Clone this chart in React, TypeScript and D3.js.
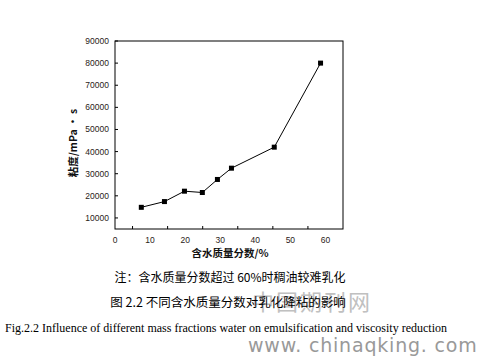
import React from "react";
import * as d3 from "d3";

const waterFraction = [7.5, 14.1, 19.8, 24.9, 29.2, 33.2, 45.4, 58.6];
const viscosity = [14800, 17400, 22100, 21500, 27400, 32500, 42000, 80000];
const xTickValues = [0, 10, 20, 30, 40, 50, 60];
const xMinorTicks = [5, 15, 25, 35, 45, 55];
const yTickValues = [10000, 20000, 30000, 40000, 50000, 60000, 70000, 80000, 90000];

const xLabel = "含水质量分数/%";
const yLabel = "粘度/mPa • s";
const noteText = "注：含水质量分数超过 60%时稠油较难乳化";
const titleCn = "图 2.2  不同含水质量分数对乳化降粘的影响";
const titleEn = "Fig.2.2 Influence of different mass fractions water on emulsification and viscosity reduction";
const watermarkCn = "中国期刊网";
const watermarkUrl = "www. chinaqking. com";

export default function App() {
  const W = 479, H = 357;
  const left = 115, right = 343, top = 41, bottom = 229;
  const x = d3.scaleLinear().domain([0, 65]).range([left, right]);
  const y = d3.scaleLinear().domain([5000, 90000]).range([bottom, top]);
  const line = d3.line<number>().x((_, i) => x(waterFraction[i])).y((d) => y(d));
  const sans = "Liberation Sans, Arial, sans-serif";
  const cjk = "'Noto Sans CJK SC', sans-serif";
  return (
    <svg width={W} height={H} style={{ position: "absolute", left: 0, top: 0, background: "#fff" }}>
      <rect x={0} y={0} width={W} height={H} fill="#fff" />
      <rect x={left} y={top} width={right - left} height={bottom - top} fill="none" stroke="#000" strokeWidth={1} />
      {xMinorTicks.map((t) => (
        <line key={"xm" + t} x1={x(t)} x2={x(t)} y1={bottom} y2={bottom - 3} stroke="#000" />
      ))}
      {xTickValues.map((t) => (
        <text key={"xt" + t} x={x(t)} y={bottom + 14} fontSize={8.5} fontFamily={sans} textAnchor="middle" fill="#2a2218">
          {t}
        </text>
      ))}
      {yTickValues.map((t) => (
        <g key={"yt" + t}>
          <line x1={left} x2={left + 3} y1={y(t)} y2={y(t)} stroke="#000" />
          <text x={left - 6} y={y(t) + 3} fontSize={8.5} fontFamily={sans} textAnchor="end" fill="#2a2218">
            {t}
          </text>
        </g>
      ))}
      <path d={line(viscosity) || ""} fill="none" stroke="#000" strokeWidth={1} />
      {viscosity.map((v, i) => (
        <rect key={"p" + i} x={x(waterFraction[i]) - 2.5} y={y(v) - 2.5} width={5} height={5} fill="#000" />
      ))}
      <text x={230} y={257} fontSize={10.5} fontFamily={cjk} fontWeight="bold" textAnchor="middle" fill="#111">
        {xLabel}
      </text>
      <text transform={`translate(77,143) rotate(-90)`} fontSize={10.5} fontFamily={cjk} fontWeight="bold" textAnchor="middle" fill="#111">
        {yLabel}
      </text>
      <text x={230} y={282} fontSize={12} fontFamily={cjk} textAnchor="middle" fill="#000">
        {noteText}
      </text>
      <text x={252} y={310} fontSize={22} fontFamily={cjk} fill="#c0c0c0" letterSpacing={2}>
        {watermarkCn}
      </text>
      <text x={228} y={307} fontSize={12.5} fontFamily={cjk} textAnchor="middle" fill="#000">
        {titleCn}
      </text>
      <text x={5} y={332} fontSize={12} fontFamily="'Liberation Serif', 'Times New Roman', serif" fill="#000">
        {titleEn}
      </text>
      <text x={248} y={352} fontSize={19} fontFamily="'DejaVu Sans', sans-serif" fill="#999" letterSpacing={0.8}>
        {watermarkUrl}
      </text>
    </svg>
  );
}
